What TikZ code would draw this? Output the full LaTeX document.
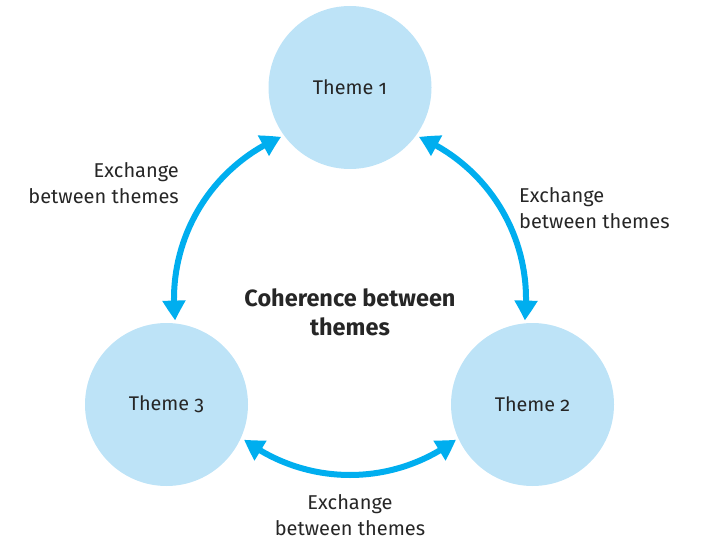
\documentclass[tikz,border=0pt]{standalone}
\usepackage{fontspec}
\setmainfont{Fira Sans}[Numbers=OldStyle]
\usetikzlibrary{arrows.meta,bending,calc}
\definecolor{circfill}{HTML}{BDE3F7}
\definecolor{arrcol}{HTML}{00AEEF}
\definecolor{txt}{HTML}{262626}
\begin{document}
\begin{tikzpicture}[x=1pt,y=-1pt,
  theme/.style={circle,fill=circfill,minimum size=163pt,inner sep=0pt,text=txt,font=\fontsize{19.8}{23}\selectfont},
  lbl/.style={text=txt,font=\fontsize{20}{26.5}\selectfont,inner sep=0pt},
  conn/.style={draw=arrcol,line width=6pt,{Triangle[width=22pt,length=20pt,bend]}-{Triangle[width=22pt,length=20pt,bend]}}]
\useasboundingbox (0,0) rectangle (703,540);
\coordinate (ctr) at (350,299);
\node[theme] (t1) at (350,87.5) {Theme 1};
\node[theme] (t3) at (166.5,404.5) {Theme 3};
\node[theme] (t2) at (532.5,404.5) {Theme 2};
% arrow endpoints on a common circle around ctr (radius 176, y-axis flipped)
\coordinate (a1s) at ($(ctr)+(113:176 and -176)$);
\coordinate (a2s) at ($(ctr)+(67:176 and -176)$);
\coordinate (a3s) at ($(ctr)+(233:176 and -176)$);
\draw[conn] (a1s) arc[start angle=-113,end angle=-187,radius=176];
\draw[conn] (a2s) arc[start angle=-67,end angle=7,radius=176];
\draw[conn] (a3s) arc[start angle=-233,end angle=-307,radius=176];
\node[lbl,align=right,anchor=east] (l1) at (179,183) {Exchange\\between themes};
\node[lbl,align=left,anchor=west] (l2) at (519,208) {Exchange\\between themes};
\node[lbl,align=center] (l3) at (350,515) {Exchange\\between themes};
\node[text=txt,font=\bfseries\fontsize{23.5}{29}\selectfont,align=center,inner sep=0pt] (c) at (350,312) {Coherence between\\themes};
\end{tikzpicture}
\end{document}
